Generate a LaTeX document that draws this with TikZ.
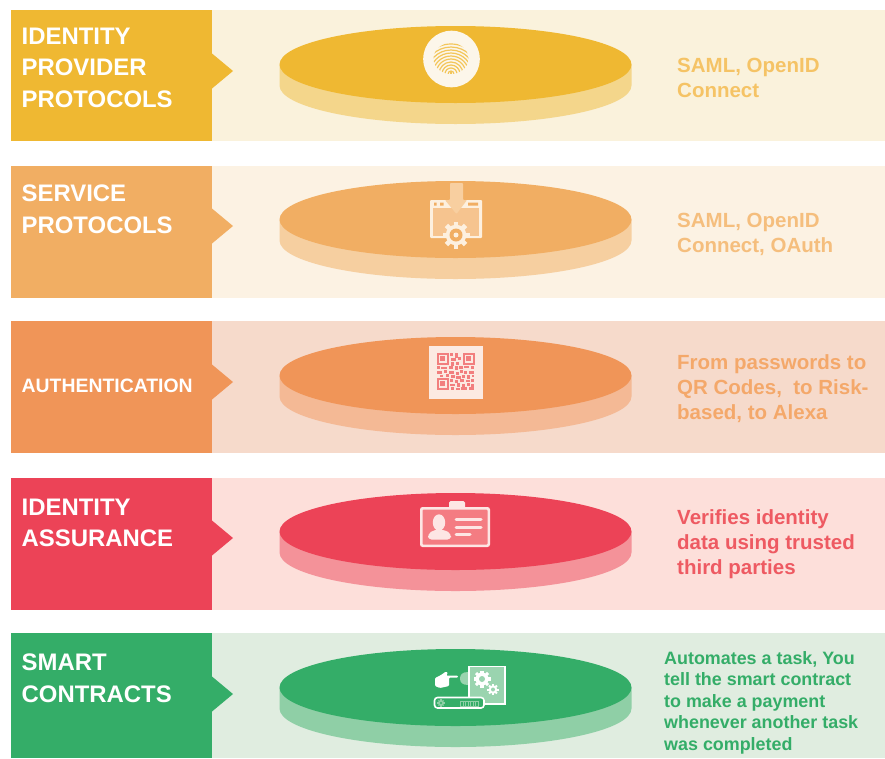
\documentclass[tikz,border=0pt]{standalone}
\usepackage{fontspec}
\setmainfont{Liberation Sans}
\definecolor{yA}{HTML}{EFB832}\definecolor{yB}{HTML}{FAF2DC}\definecolor{yC}{HTML}{F4D68B}\definecolor{yT}{HTML}{F5C365}
\definecolor{oA}{HTML}{F1AE63}\definecolor{oB}{HTML}{FCF2E3}\definecolor{oC}{HTML}{F6CFA0}\definecolor{oT}{HTML}{F5BE7D}
\definecolor{sA}{HTML}{F09558}\definecolor{sB}{HTML}{F6DACB}\definecolor{sC}{HTML}{F4B995}\definecolor{sT}{HTML}{F4A86A}
\definecolor{rA}{HTML}{EC4357}\definecolor{rB}{HTML}{FDDFDA}\definecolor{rC}{HTML}{F49299}\definecolor{rT}{HTML}{EE5A62}
\definecolor{gA}{HTML}{34AD68}\definecolor{gB}{HTML}{E0EDE0}\definecolor{gC}{HTML}{8FCFA6}\definecolor{gT}{HTML}{34AD68}
\definecolor{qrc}{HTML}{F27F7E}\definecolor{winfill}{HTML}{F6C48F}\definecolor{cardfill}{HTML}{F47C82}
\definecolor{fpc}{HTML}{FCF6EA}\definecolor{fpl}{HTML}{F3C65A}\definecolor{wlight}{HTML}{FDF0DF}\definecolor{alight}{HTML}{F8CFA0}\definecolor{qlight}{HTML}{FCEAE2}\definecolor{clight}{HTML}{FDE6E4}
\tikzset{
  title/.style={anchor=north west,inner sep=0pt,align=left,text=white,font=\fontsize{23.9}{31.7}\selectfont\bfseries},
  detail/.style={anchor=north west,inner sep=0pt,align=left,font=\fontsize{20.5}{25}\selectfont\bfseries},
  small detail/.style={anchor=north west,inner sep=0pt,align=left,font=\fontsize{17.9}{21.6}\selectfont\bfseries}
}
% #1 top y, #2 bottom y, #3 main, #4 background, #5 side, #6 ellipse centre y
\newcommand{\bandshape}[6]{%
  \fill[#4] (212,#1) rectangle (885,#2);
  \fill[#3] (11,#1) rectangle (212,#2);
  \fill[#3] (212,#6+6.5-17.5) -- (233,#6+6.5) -- (212,#6+6.5+17.5) -- cycle;
  \fill[#5] (279.5,#6) -- (279.5,#6+21) arc[start angle=180,end angle=0,x radius=176,y radius=38.5] -- (631.5,#6) -- cycle;
  \fill[#3] (455.5,#6) ellipse[x radius=176,y radius=38.5];
}
% #1 x, #2 y, #3 radius, #4 hole radius, #5 colour, #6 hole colour
\newcommand{\gearshape}[6]{%
  \foreach \a in {0,45,...,315}
    \draw[#5,line width=0.36*#3] (#1,#2) -- ++(\a:#3);
  \fill[#5] (#1,#2) circle[radius=0.76*#3];
  \fill[#6] (#1,#2) circle[radius=#4];
}
\begin{document}
\begin{tikzpicture}[x=1pt,y=-1pt]
\useasboundingbox (0,0) rectangle (885,758);
\fill[white] (0,0) rectangle (885,758);
\bandshape{10}{141}{yA}{yB}{yC}{64.5}
\bandshape{166}{298}{oA}{oB}{oC}{219.5}
\bandshape{321}{453}{sA}{sB}{sC}{375.5}
\bandshape{478}{610}{rA}{rB}{rC}{531.5}
\bandshape{633}{758}{gA}{gB}{gC}{687.5}

\node[title] (t1) at (21.5,27.5) {IDENTITY\\PROVIDER\\PROTOCOLS};
\node[title] (t2) at (21.5,184.5) {SERVICE\\PROTOCOLS};
\node[title,font=\fontsize{19.4}{24}\selectfont\bfseries] (t3) at (21.5,378.5) {AUTHENTICATION};
\node[title] (t4) at (21.5,498.5) {IDENTITY\\ASSURANCE};
\node[title] (t5) at (21.5,653.5) {SMART\\CONTRACTS};

\node[detail,text=yT] (d1) at (677,58) {SAML, OpenID\\Connect};
\node[detail,text=oT] (d2) at (677,212.5) {SAML, OpenID\\Connect, OAuth};
\node[detail,text=sT] (d3) at (677,354) {From passwords to\\QR Codes,\ \ to Risk-\\based, to Alexa};
\node[detail,text=rT] (d4) at (677,509.5) {Verifies identity\\data using trusted\\third parties};
\node[small detail,text=gT] (d5) at (664,651) {Automates a task, You\\tell the smart contract\\to make a payment\\whenever another task\\was completed};

% fingerprint
\fill[fpc] (451.5,59) circle[radius=28.3];
\begin{scope}
  \clip (451,58.5) ellipse[x radius=17.5,y radius=15.5];
  \foreach \r in {3,6,9,12,15,18,21,24,27,30}
    \draw[fpl,line width=1.2] (451,74) ++(0:\r) arc[start angle=0,end angle=-180,radius=\r];
\end{scope}
\draw[fpl,line width=1.2] (451,73.5) -- (451,71);

% download + gear window
\fill[wlight,rounded corners=1] (430,200) rectangle (482,238);
\fill[winfill] (433,207.5) rectangle (479,235.5);
\fill[oA] (434,202.5) rectangle (436.5,205.5) (440,202.5) rectangle (443.5,205.5) (468,202.5) rectangle (478,205.5);
\fill[alight,rounded corners=0.8] (450,183) -- (463,183) -- (463,200) -- (467,200) -- (456.5,214) -- (445,200) -- (450,200) -- cycle;
\gearshape{456}{235}{13.5}{6.5}{wlight}{oA}
\fill[wlight] (456,235) circle[radius=2.5];

% QR code
\fill[qlight] (429,346) rectangle (483,399);
\foreach \x/\y in {437/353,463/353,437/378}{
  \draw[qrc,line width=1.8] (\x+.9,\y+.9) rectangle (\x+10.6,\y+10.6);
  \fill[qrc] (\x+3.2,\y+3.2) rectangle (\x+8.3,\y+8.3);
}
\foreach \x/\y/\w/\h in {450/353/3/3,455/353/3/5,451/358/5/3,458/357/3/3,451/362/3/4,456/362/3/3,
 437/366/3/3,441/367/6/2,449/366/4/3,455/366/3/4,459/366/4/3,464/366/5/2,471/366/3/3,
 437/371/5/3,444/370/3/3,449/371/5/3,456/372/3/3,460/370/3/3,464/371/3/3,469/371/5/3,
 440/375/3/2,446/374/3/3,451/375/4/3,456/376/5/3,462/375/3/3,467/375/3/4,472/375/2/2,
 450/379/3/3,455/380/3/3,460/379/4/3,466/380/4/2,471/379/3/3,
 450/384/5/2,457/383/3/4,462/384/3/3,467/383/3/3,471/384/3/3,
 451/387/3/3,456/388/4/2,461/387/6/3,469/387/5/3}
  \fill[qrc] (\x,\y) rectangle ++(\w,\h);

% ID card
\fill[clight,rounded corners=1.5] (449,501) rectangle (465,510);
\fill[clight,rounded corners=2.5] (420,507) rectangle (490,547);
\fill[cardfill,rounded corners=1] (422.5,509.5) rectangle (487.5,544.5);
\fill[clight] (439,522.5) ellipse[x radius=6.2,y radius=8.2];
\fill[clight,rounded corners=3.5] (428,539.5) -- (428,534) .. controls (432,531) and (436,530) .. (439,530) .. controls (443,530) and (447,531) .. (451,534) -- (451,539.5) -- cycle;
\draw[clight,line width=3,line cap=round] (456,519) -- (481,519) (456,527) -- (481,527) (456,534.5) -- (470,534.5);

% smart contract
\fill[gC!90!white] (468,672) .. controls (462,672) and (460,675) .. (460,678.5) .. controls (460,682) and (462,685) .. (468,685) -- cycle;
\draw[white,line width=1.8,fill=gC!90!white] (469,666.5) rectangle (505,704);
\gearshape{482}{679}{8.5}{3}{white}{gC!90!white}
\gearshape{493}{689.5}{5.6}{2}{white}{gC!90!white}
\fill[white,rounded corners=1] (435,678) -- (441,675) -- (446,671.5) -- (448,673) -- (446,675.5) -- (458,675.5) -- (458,677.5) -- (449,677.5) -- (449,686) -- (440,688) -- (435,686) -- cycle;
\draw[white,line width=1.6,fill=gA,rounded corners=3] (434.5,697.5) rectangle (484,708);
\gearshape{441}{703}{3.6}{1.2}{gC}{gA}
\draw[gC,line width=.8] (460.5,701) rectangle (478,706);
\foreach \x in {463,465.5,...,476}
  \draw[gC,line width=.6] (\x,701) -- (\x,706);
\end{tikzpicture}
\end{document}
